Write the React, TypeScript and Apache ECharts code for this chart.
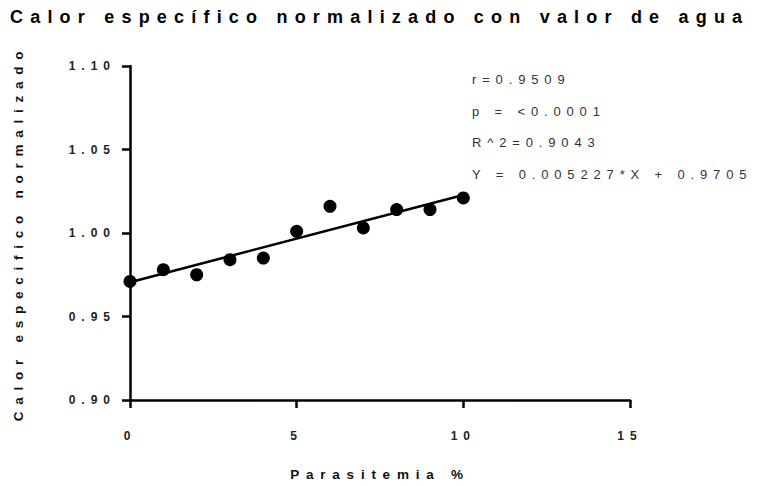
import React, { useEffect, useRef } from "react";
import * as echarts from "echarts";

const chartTitle = "Calor específico normalizado con valor de agua";
const yAxisTitle = "Calor especifico normalizado";
const xAxisTitle = "Parasitemia %";

const parasitemia = [0, 1, 2, 3, 4, 5, 6, 7, 8, 9, 10];
const calorNorm = [0.971, 0.978, 0.975, 0.984, 0.985, 1.001, 1.016, 1.003, 1.014, 1.014, 1.021];

const fitX = [0, 10];
const fitY = [0.9705, 1.0228];

const statLines = ["r=0.9509", "p = <0.0001", "R^2=0.9043", "Y = 0.005227*X + 0.9705"];
const statLineY = [79, 111, 142, 174];

const FONT = "'Liberation Sans', Arial, Helvetica, sans-serif";

export default function App() {
  const ref = useRef<HTMLDivElement>(null);

  useEffect(() => {
    if (!ref.current) return;
    const chart = echarts.init(ref.current, null, { renderer: "svg" });
    const option: any = {
      animation: false,
      backgroundColor: "#ffffff",
      title: {
        text: chartTitle,
        left: 10,
        top: 8,
        padding: 0,
        textStyle: { fontFamily: FONT, fontSize: 18, fontWeight: "bold", color: "#000" },
      },
      grid: { left: 130, top: 66, right: 150, bottom: 85 },
      xAxis: {
        type: "value",
        min: 0,
        max: 15,
        interval: 5,
        name: xAxisTitle,
        nameLocation: "middle",
        nameGap: 67,
        nameTextStyle: { fontFamily: FONT, fontSize: 13.5, fontWeight: "bold", color: "#111" },
        axisLine: { show: true, onZero: false, lineStyle: { color: "#000", width: 2.5 } },
        axisTick: { show: true, length: 8, lineStyle: { color: "#000", width: 2.5 } },
        axisLabel: { margin: 30, fontFamily: FONT, fontSize: 12, fontWeight: "bold", color: "#222" },
        splitLine: { show: false },
      },
      yAxis: {
        type: "value",
        min: 0.9,
        max: 1.1,
        interval: 0.05,
        name: yAxisTitle,
        nameLocation: "middle",
        nameGap: 105,
        nameTextStyle: { fontFamily: FONT, fontSize: 13.5, fontWeight: "bold", color: "#111" },
        axisLine: { show: true, onZero: false, lineStyle: { color: "#000", width: 2.5 } },
        axisTick: { show: true, length: 8, lineStyle: { color: "#000", width: 2.5 } },
        axisLabel: {
          margin: 14,
          fontFamily: FONT,
          fontSize: 12,
          fontWeight: "bold",
          color: "#222",
          formatter: (v: number) => v.toFixed(2),
        },
        splitLine: { show: false },
      },
      series: [
        {
          type: "line",
          data: fitX.map((x, i) => [x, fitY[i]]),
          showSymbol: false,
          symbol: "none",
          lineStyle: { color: "#000", width: 2.5 },
          z: 2,
        },
        {
          type: "scatter",
          data: parasitemia.map((x, i) => [x, calorNorm[i]]),
          symbol: "circle",
          symbolSize: 13,
          itemStyle: { color: "#000", opacity: 1 },
          z: 3,
        },
      ],
      graphic: statLines.map((t, i) => ({
        type: "text",
        x: 472,
        y: statLineY[i],
        style: {
          text: t,
          fill: "#333",
          fontFamily: FONT,
          fontSize: 13,
          verticalAlign: "middle",
          align: "left",
        },
      })),
    };
    chart.setOption(option);
    return () => chart.dispose();
  }, []);

  return (
    <div style={{ position: "absolute", left: 0, top: 0, width: 780, height: 486, background: "#fff" }}>
      <style>{`.lsp text { letter-spacing: 0.5em; } .lsp text[style*="18px"] { letter-spacing: 0.4em; } .lsp text[style*="13px"] { letter-spacing: 0.45em; }`}</style>
      <div className="lsp" ref={ref} style={{ width: 780, height: 486 }} />
    </div>
  );
}
